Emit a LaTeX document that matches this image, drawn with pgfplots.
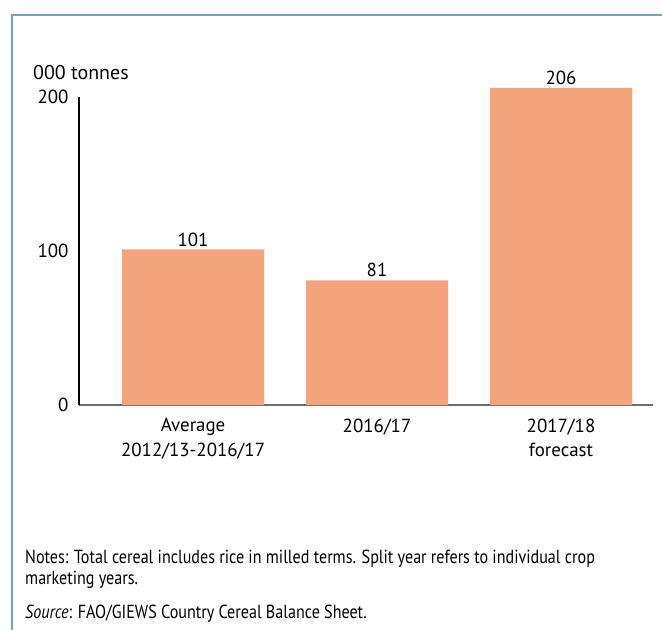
\documentclass[border=0pt]{standalone}
\usepackage{pgfplots}
\pgfplotsset{compat=1.18}
\usepackage{fontspec}
\setmainfont{PT Sans}
\newfontfamily\notesfont[FakeStretch=0.85]{PT Sans}
\definecolor{barcol}{RGB}{244,164,124}
\definecolor{framecol}{RGB}{111,160,207}
\definecolor{xaxiscol}{RGB}{110,110,110}
\begin{document}
\begin{tikzpicture}
\path[use as bounding box] (0,0) rectangle (662bp,-630bp);
\draw[framecol, line width=2.5bp] (663bp,-15bp) -- (12bp,-15bp) -- (12bp,-631bp);
\node[anchor=base west, font=\fontsize{20}{22}\selectfont, inner sep=0] at (33bp,-79bp) {000 tonnes};
\begin{axis}[
 at={(79bp,-405bp)}, anchor=south west,
 scale only axis, width=574bp, height=308bp,
 xmin=-0.62, xmax=2.5, ymin=0, ymax=200,
 clip=false,
 axis x line*=bottom, axis y line*=left,
 axis line style={-},
 x axis line style={draw=xaxiscol, line width=2.5bp, -},
 y axis line style={draw=black, line width=1.5bp, -},
 xtick={0,1,2},
 xticklabels={{Average\\2012/13-2016/17},{2016/17},{2017/18\\forecast}},
 ytick={0,100,200},
 major tick length=0,
 tick label style={font=\fontsize{19}{25}\selectfont},
 xticklabel style={align=center, yshift=-10bp},
 yticklabel style={xshift=-7bp},
 /pgf/number format/assume math mode=true,
 ybar, bar width=142bp,
 nodes near coords,
 nodes near coords style={font=\fontsize{19}{22}\selectfont, text=black, inner sep=3bp},
]
\addplot[fill=barcol, draw=none] coordinates {(0,101) (1,81) (2,206)};
\end{axis}
\node[anchor=base west, inner sep=0, font=\notesfont\fontsize{19}{22}\selectfont] at (25bp,-563bp) {Notes: Total cereal includes rice in milled terms. Split year refers to individual crop};
\node[anchor=base west, inner sep=0, font=\notesfont\fontsize{19}{22}\selectfont] at (25bp,-584bp) {marketing years.};
\node[anchor=base west, inner sep=0, font=\notesfont\fontsize{19}{22}\selectfont] at (25bp,-618bp) {\textit{Source}: FAO/GIEWS Country Cereal Balance Sheet.};
\end{tikzpicture}
\end{document}
